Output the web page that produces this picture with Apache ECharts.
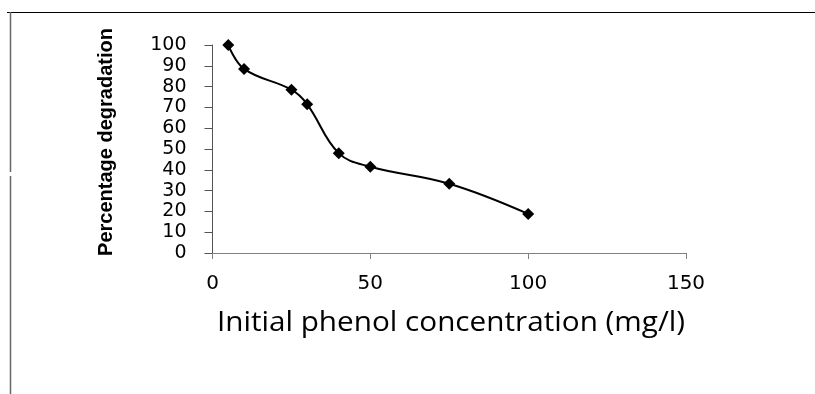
<!DOCTYPE html>
<html>
<head>
<meta charset="utf-8">
<script src="https://cdn.jsdelivr.net/npm/echarts@6/dist/echarts.min.js"></script>
<style>html,body{margin:0;padding:0;background:#fff}#c{width:815px;height:394px}</style>
</head>
<body>
<div id="c"></div>
<script>
var concentration = [5, 10, 25, 30, 40, 50, 75, 100];
var degradation = [100, 88.5, 78.5, 71.5, 48, 41.5, 33.3, 18.8];
var xTitle = 'Initial phenol concentration (mg/l)';
var yTitle = 'Percentage degradation';

var chart = echarts.init(document.getElementById('c'), null, {renderer: 'canvas'});
var pts = concentration.map(function (x, i) { return [x, degradation[i]]; });
chart.setOption({
  animation: false,
  backgroundColor: '#fff',
  grid: {left: 212.5, right: 129, top: 45, bottom: 141},
  xAxis: {
    type: 'value', min: 0, max: 150, interval: 50,
    axisLine: {show: true, onZero: false, lineStyle: {color: '#808080', width: 1}},
    axisTick: {show: true, inside: false, length: 6, lineStyle: {color: '#808080'}},
    splitLine: {show: false},
    axisLabel: {margin: 21, color: '#000', fontFamily: 'DejaVu Sans', fontSize: 20}
  },
  yAxis: {
    type: 'value', min: 0, max: 100, interval: 10,
    axisLine: {show: true, lineStyle: {color: '#555', width: 1}},
    axisTick: {show: true, inside: false, length: 8, lineStyle: {color: '#555'}},
    splitLine: {show: false},
    axisLabel: {margin: 26, color: '#000', fontFamily: 'DejaVu Sans', fontSize: 19}
  },
  series: [{
    type: 'line', data: pts, smooth: 0.4,
    symbol: 'diamond', symbolSize: 12,
    itemStyle: {color: '#000'},
    lineStyle: {color: '#000', width: 2}
  }],
  graphic: [
    {type: 'line', shape: {x1: 7, y1: 12.5, x2: 815, y2: 12.5}, style: {stroke: '#000', lineWidth: 1}},
    {type: 'line', shape: {x1: 10.5, y1: 12, x2: 10.5, y2: 172}, style: {stroke: '#666', lineWidth: 1.5}},
    {type: 'line', shape: {x1: 10.5, y1: 176, x2: 10.5, y2: 394}, style: {stroke: '#666', lineWidth: 1.5}},
    {type: 'text', x: 106, y: 142, rotation: Math.PI / 2,
     style: {text: yTitle, fill: '#000', font: 'bold 20px "Liberation Sans"', textAlign: 'center', textVerticalAlign: 'middle'}},
    {type: 'text', x: 451, y: 323, scaleX: 1.1, scaleY: 1,
     style: {text: xTitle, fill: '#000', font: '27px "Open Sans"', textAlign: 'center', textVerticalAlign: 'middle'}}
  ]
});
</script>
</body>
</html>
